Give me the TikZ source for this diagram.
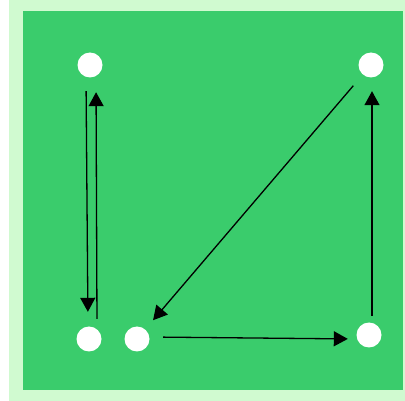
\documentclass[tikz,border=0pt]{standalone}
\usetikzlibrary{arrows.meta}
\definecolor{bgouter}{RGB}{208,250,208}
\definecolor{bginner}{RGB}{58,204,108}
\begin{document}
\begin{tikzpicture}[x=1pt,y=-1pt,
  dot/.style={circle,fill=white,draw=none,minimum size=25pt,inner sep=0pt},
  arr/.style={line width=1.3pt,-{Triangle[length=14pt,width=15pt]}}]
\useasboundingbox (0,0) rectangle (405,401);
\fill[white] (0,0) rectangle (405,401);
\fill[bgouter] (9,0) rectangle (405,401);
\fill[bginner] (23,11) rectangle (403,390);
\node[dot] (A) at (90,65) {};
\node[dot] (B) at (371,65) {};
\node[dot] (C) at (89,339) {};
\node[dot] (D) at (137,339) {};
\node[dot] (E) at (369,335) {};
\draw[arr,shorten <=13.5pt,shorten >=14.5pt] ([xshift=-4pt]A.south) -- ([xshift=-1pt]C.north);
\draw[arr,shorten <=7.5pt,shorten >=14.5pt] ([xshift=8pt]C.north) -- ([xshift=6pt]A.south);
\draw[arr,shorten <=14.5pt,shorten >=12pt] (B) -- (D);
\draw[arr,shorten <=13.5pt,shorten >=8.5pt] ([yshift=2pt]D.east) -- ([yshift=-4pt]E.west);
\draw[arr,shorten <=6.5pt,shorten >=13.5pt] ([xshift=3pt]E.north) -- ([xshift=1pt]B.south);
\end{tikzpicture}
\end{document}
